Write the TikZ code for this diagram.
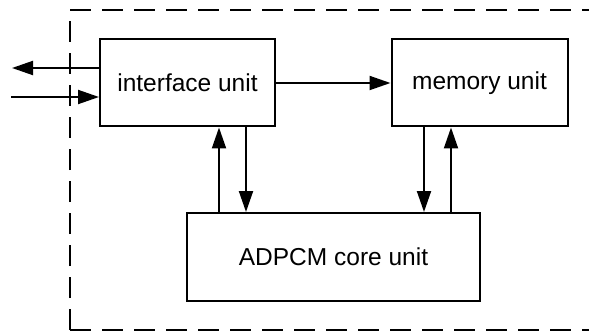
\documentclass[tikz,border=0pt]{standalone}
\usepackage{fontspec}
\setmainfont{Liberation Sans}
\usetikzlibrary{arrows.meta}
\begin{document}
\begin{tikzpicture}[x=1pt,y=-1pt,
  unitbox/.style={draw,line width=2pt,minimum width=#1,inner sep=0pt,font=\fontsize{24.5}{29}\selectfont},
  conn/.style={line width=2pt,-{Triangle[length=21pt,width=14pt]}},
  frame/.style={line width=2pt,dash pattern=on 21pt off 11pt}]
\useasboundingbox (0,0) rectangle (589,334);
\draw[frame] (70,330) -- (70,10) -- (600,10);
\draw[frame] (70,330) -- (600,330);
\node[unitbox=175pt,minimum height=87pt] (iface) at (187.5,83) {interface unit};
\node[unitbox=176pt,minimum height=87pt] (mem) at (479.5,83) {memory unit};
\node[unitbox=293pt,minimum height=88pt] (core) at (333.5,257) {ADPCM core unit};
\coordinate (outend) at (12,68);
\coordinate (instart) at (11,97);
\draw[conn] (iface.west |- outend) -- (outend);
\draw[conn] (instart) -- (iface.west |- instart);
\draw[conn] (iface.east) -- (mem.west);
\draw[conn] (core.north -| 219,0) -- (iface.south -| 219,0);
\draw[conn] (iface.south -| 246,0) -- (core.north -| 246,0);
\draw[conn] (mem.south -| 424,0) -- (core.north -| 424,0);
\draw[conn] (core.north -| 451,0) -- (mem.south -| 451,0);
\end{tikzpicture}
\end{document}
